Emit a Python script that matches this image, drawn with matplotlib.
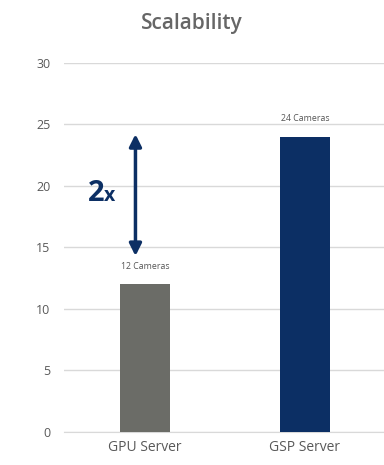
import matplotlib.pyplot as plt

servers = ["GPU Server", "GSP Server"]
cameras = [12, 24]
bar_labels = ["12 Cameras", "24 Cameras"]
bar_colors = ["#6b6c67", "#0c2f64"]
y_ticks = [0, 5, 10, 15, 20, 25, 30]

plt.rcParams["font.family"] = ["Open Sans", "DejaVu Sans"]

fig = plt.figure(figsize=(3.84, 4.65), dpi=100)
ax = fig.add_axes([0.167, 0.071, 0.833, 0.794])

x = range(len(servers))
ax.bar(x, cameras, width=0.31, color=bar_colors, zorder=3)
for i, (v, lab) in enumerate(zip(cameras, bar_labels)):
    ax.text(i, v + 1.1, lab, ha="center", va="bottom", fontsize=6.3, color="#555555")

ax.set_xlim(-0.506, 1.494)
ax.set_ylim(0, 30)
ax.set_yticks(y_ticks)
ax.set_xticks(list(x))
ax.set_xticklabels(servers, fontsize=10, color="#595959")
ax.tick_params(axis="y", labelsize=9, colors="#595959", length=0, pad=10)
ax.tick_params(axis="x", length=0, pad=6)
ax.grid(axis="y", color="#d9d9d9", linewidth=1, zorder=0)
for s in ["top", "right", "left"]:
    ax.spines[s].set_visible(False)
ax.spines["bottom"].set_color("#d9d9d9")

# double-headed arrow showing the 2x gain
ax.annotate("", xy=(-0.06, 24.2), xytext=(-0.06, 14.3),
            arrowprops=dict(arrowstyle="<|-|>", color="#0c2f64", lw=2.5,
                            mutation_scale=18, shrinkA=0, shrinkB=0))
ax.text(-0.255, 18.8, "2", fontsize=21, fontweight="bold", color="#0c2f64",
        ha="right", va="baseline")
ax.text(-0.255, 18.8, "x", fontsize=14, fontweight="bold", color="#0c2f64",
        ha="left", va="baseline")

fig.text(0.5, 0.95, "Scalability", ha="center", va="center", fontsize=15,
         fontweight="semibold", color="#666666")

fig.savefig("out.png", dpi=100)
